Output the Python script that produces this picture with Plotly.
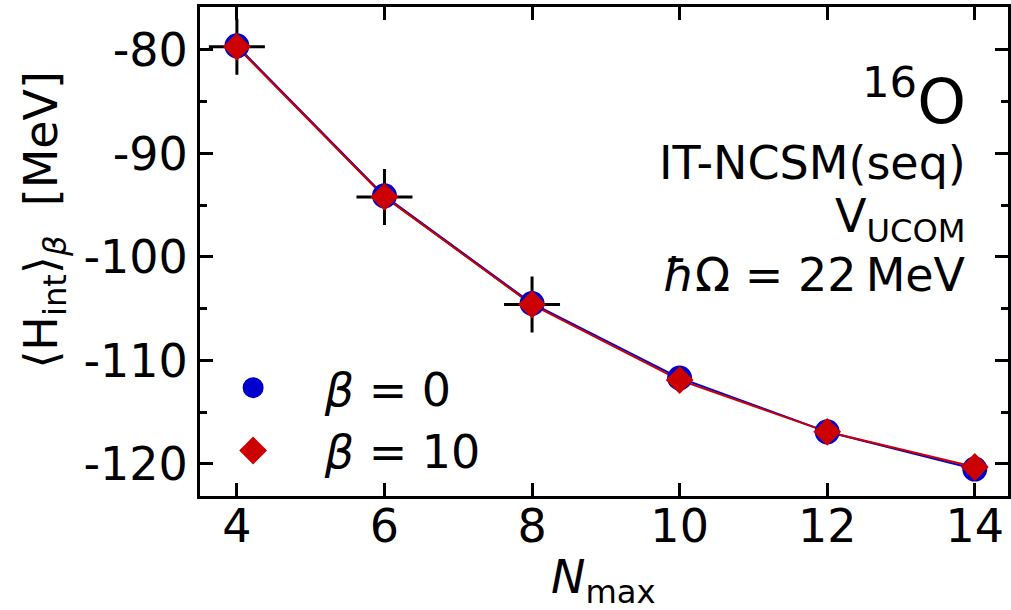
import plotly.graph_objects as go

nmax = [4, 6, 8, 10, 12, 14]
h_beta0 = [-79.6, -94.1, -104.5, -111.7, -116.9, -120.5]
h_beta10 = [-79.7, -94.2, -104.6, -111.9, -116.9, -120.3]
nmax_ref = [4, 6, 8]
h_ref = [-79.7, -94.2, -104.6]

ytick_vals = [-80, -90, -100, -110, -120]
ytick_text = ["-80", "-90", "-100", "-110", "-120"]
xtick_vals = [4, 6, 8, 10, 12, 14]

BLUE = "#0000cc"
RED = "#cc0000"
FONT = "DejaVu Sans"
FS = 46

fig = go.Figure()
fig.add_trace(go.Scatter(x=nmax_ref, y=h_ref, mode="lines", line=dict(color="black", width=1.5),
                         showlegend=False, hoverinfo="skip"))
fig.add_trace(go.Scatter(x=nmax, y=h_beta0, mode="lines", line=dict(color=BLUE, width=2),
                         showlegend=False))
fig.add_trace(go.Scatter(x=nmax, y=h_beta10, mode="lines", line=dict(color=RED, width=2),
                         showlegend=False))
fig.add_trace(go.Scatter(x=nmax_ref, y=h_ref, mode="markers",
                         marker=dict(symbol="cross-thin", size=40, line=dict(color="black", width=3)),
                         showlegend=False))
fig.add_trace(go.Scatter(x=nmax, y=h_beta0, mode="markers", name="   \u2006<i>β</i> = 0",
                         marker=dict(symbol="circle", size=20, color=BLUE,
                                     line=dict(color=BLUE, width=5))))
fig.add_trace(go.Scatter(x=nmax, y=h_beta10, mode="markers", name="   \u2006<i>β</i> = 10",
                         marker=dict(symbol="diamond", size=16, color=RED,
                                     line=dict(color=RED, width=5))))

axis_common = dict(showgrid=False, zeroline=False, showline=True, linecolor="black", linewidth=3,
                   mirror="ticks", ticks="inside", ticklen=13, tickwidth=3, tickcolor="black",
                   tickfont=dict(family=FONT, size=FS, color="black"))

fig.update_xaxes(range=[3.5, 14.45], tickvals=xtick_vals, ticklabelstandoff=-12, **axis_common)
fig.update_yaxes(range=[-123.1, -75.85], tickvals=ytick_vals, ticktext=ytick_text,
                 minor=dict(ticks="inside", ticklen=7, tickwidth=3, dtick=5, tickcolor="black"),
                 **axis_common)

ann_font = dict(family=FONT, size=FS, color="black")
annotations = [
    dict(text="<sup>16</sup>O", x=0.95, y=(496 - 97) / 489, font=dict(family=FONT, size=62, color="black")),
    dict(text="IT-NCSM(seq)", x=0.95, y=(496 - 163) / 489, font=ann_font),
    dict(text="V<sub>UCOM</sub>", x=0.95, y=(496 - 219) / 489, font=ann_font),
    dict(text="<i>ħ</i>Ω = 22\u2009MeV", x=0.95, y=(496 - 275) / 489, font=ann_font),
]
for a in annotations:
    fig.add_annotation(xref="paper", yref="paper", xanchor="right", yanchor="middle",
                       showarrow=False, **a)

fig.add_annotation(text="⟨H<sub>int</sub>⟩<sub><i>β</i></sub>  [MeV]", xref="paper", yref="paper",
                   x=(43 - 200) / 811, y=(496 - 220) / 489, textangle=-90, showarrow=False,
                   xanchor="center", yanchor="middle", font=ann_font)
fig.add_annotation(text="<i>N</i><sub>max</sub>", xref="paper", yref="paper",
                   x=(605 - 200) / 811, y=(496 - 580) / 489, showarrow=False,
                   xanchor="center", yanchor="middle", font=ann_font)

fig.update_layout(
    width=1011, height=610,
    margin=dict(l=200, r=0, t=7, b=114),
    paper_bgcolor="white", plot_bgcolor="white",
    font=dict(family=FONT, color="black"),
    legend=dict(x=0.041, y=0.296, xanchor="left", yanchor="top", bgcolor="rgba(0,0,0,0)",
                font=dict(family=FONT, size=FS, color="black"), tracegroupgap=0,
                itemsizing="trace"),
)

fig.write_html("out.html")
